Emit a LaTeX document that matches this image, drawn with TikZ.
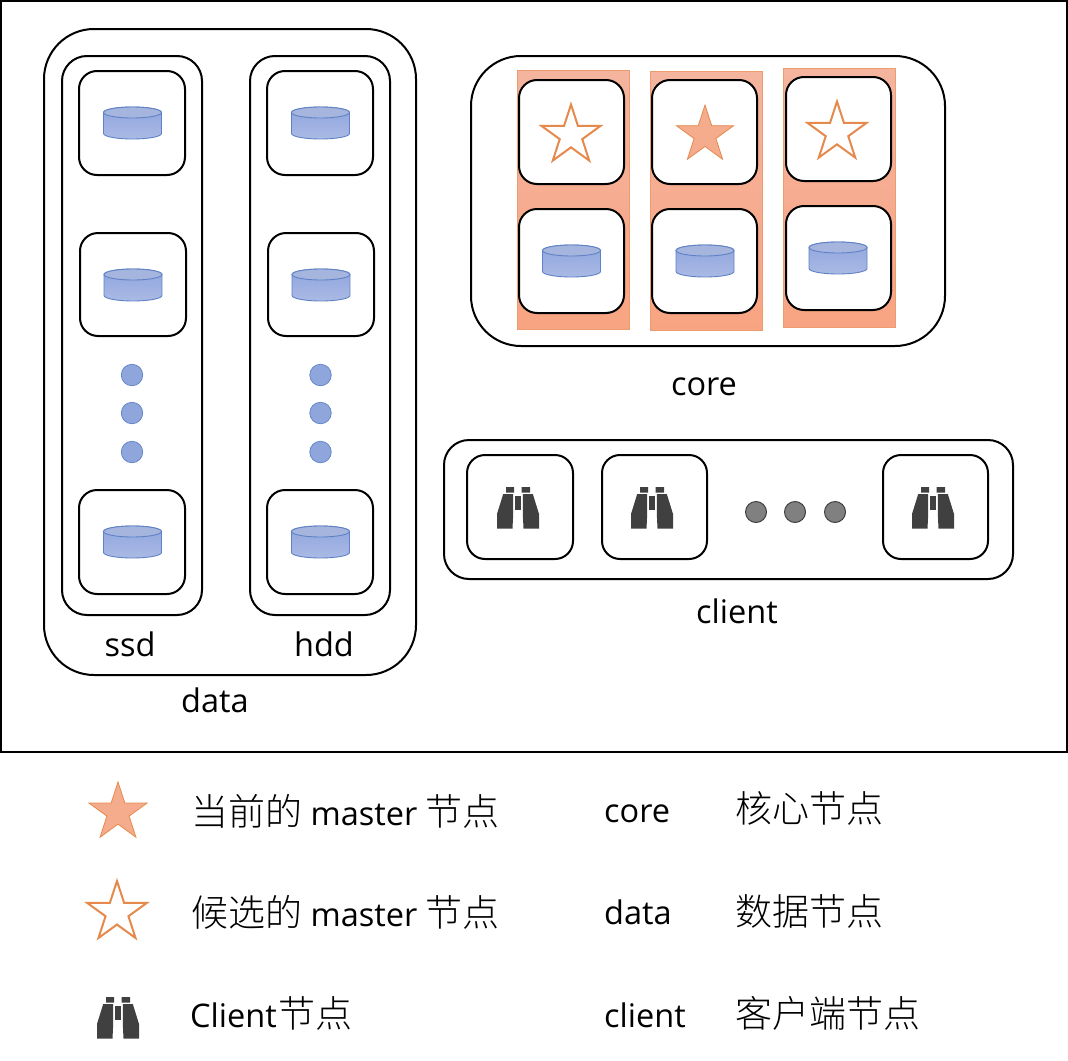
\documentclass[tikz,border=0pt]{standalone}
\usepackage{fontspec}
\setmainfont{Open Sans}
\newfontfamily\cjk{Noto Sans CJK SC Light}
\usetikzlibrary{shapes.geometric}
\definecolor{starline}{HTML}{E58A4C}
\definecolor{starfill}{HTML}{F5AC8D}
\definecolor{stripline}{HTML}{EC9C6E}
\definecolor{cylline}{HTML}{5F82C6}
\definecolor{binoc}{HTML}{404040}
\definecolor{striptop}{HTML}{F4B49E}
\definecolor{stripbot}{HTML}{F8A482}
\definecolor{cyltop}{HTML}{8FA5DE}
\definecolor{cylbot}{HTML}{ABBAE5}
\definecolor{cyllid}{HTML}{A6B5DE}
\definecolor{dotfill}{HTML}{8FA6DC}
\tikzset{
  x=1pt,y=-1pt,
  frame/.style={draw=black,line width=2pt,fill=white,rounded corners=#1},
  frame/.default=18pt,
  stripbox/.style={draw=stripline,line width=0.8pt,top color=striptop,bottom color=stripbot},
  starbase/.style={star,star points=5,star point ratio=2.618,inner sep=0pt,minimum size=#1},
  hollowstar/.style={starbase=#1,draw=starline,line width=2pt,fill=white},
  solidstar/.style={starbase=#1,draw=starline,line width=0.8pt,fill=starfill},
  vdot/.style={circle,draw=cylline,line width=0.7pt,fill=dotfill,minimum size=21.5pt,inner sep=0pt},
  gdot/.style={circle,draw=black!75,line width=1pt,fill=black!50,minimum size=21pt,inner sep=0pt},
  lab/.style={anchor=base,inner sep=0pt,font=\fontsize{32.5}{36}\selectfont},
  leg/.style={anchor=base west,inner sep=0pt,font=\fontsize{32.5}{36}\selectfont},
  cyl/.pic={
    \path[top color=cyltop,bottom color=cylbot,draw=cylline,line width=0.9pt]
      (-29,-10.5) -- (-29,10.5) arc[start angle=180,end angle=0,x radius=29,y radius=5.5]
      -- (29,-10.5) arc[start angle=0,end angle=-180,x radius=29,y radius=5.5] -- cycle;
    \path[fill=cyllid,draw=cylline,line width=0.9pt] (0,-10.5) ellipse[x radius=29,y radius=5.5];
  },
  binoculars/.pic={
    \fill[binoc] (-12,-20) rectangle (-4,-14.5) (3.5,-20) rectangle (12,-14.5);
    \fill[binoc] (-14.8,-13) -- (-4.8,-13) -- (-4.8,7) -- (-5.5,21.5) -- (-21,21.5) -- (-21,7) -- cycle;
    \fill[binoc] (14.8,-13) -- (4.8,-13) -- (4.8,7) -- (5.5,21.5) -- (21,21.5) -- (21,7) -- cycle;
    \fill[binoc] (-2.8,-11.3) rectangle (2.8,2.7);
  }
}
\newcommand{\bx}[5]{\path[frame] (#2,#3) rectangle (#4,#5) node[pos=.5,inner sep=0pt] (#1) {};}
\newcommand{\zh}[1]{{\cjk\fontsize{37}{40}\selectfont #1}}
\begin{document}
\begin{tikzpicture}
\useasboundingbox (0,0) rectangle (1068,1060);
\fill[white] (0,0) rectangle (1068,1060);
\path[draw=black,line width=2pt] (1,1) rectangle (1067,752) node[pos=.5,inner sep=0pt] (main) {};
% data group
\path[frame=50pt] (44,29) rectangle (416,675) node[pos=.5,inner sep=0pt] (datagroup) {};
\path[frame=25pt] (62,56) rectangle (202,615) node[pos=.5,inner sep=0pt] (ssdgroup) {};
\path[frame=25pt] (250,56) rectangle (390,615) node[pos=.5,inner sep=0pt] (hddgroup) {};
\bx{sa}{79}{71}{185}{175}
\bx{sb}{80}{233}{186}{336}
\bx{sc}{79}{490}{185}{594}
\bx{ha}{267}{71}{373}{175}
\bx{hb}{268}{233}{374}{336}
\bx{hc}{267}{490}{373}{594}
\path (132.5,123) pic {cyl} (133,285) pic {cyl} (132.5,542) pic {cyl}
      (320.5,123) pic {cyl} (321,285) pic {cyl} (320.5,542) pic {cyl};
\node[vdot] (sd1) at (132,375) {};
\node[vdot] (sd2) at (132,413) {};
\node[vdot] (sd3) at (132,452) {};
\node[vdot] (hd1) at (320.5,375) {};
\node[vdot] (hd2) at (320.5,413) {};
\node[vdot] (hd3) at (320.5,452) {};
\node[lab] (ssdlab) at (130,656) {ssd};
\node[lab] (hddlab) at (324,656) {hdd};
\node[lab] (datalab) at (215,712) {data};
% core group
\path[frame=50pt] (471,56) rectangle (945,346) node[pos=.5,inner sep=0pt] (coregroup) {};
\path[stripbox] (517,70) rectangle (629,329) node[pos=.5,inner sep=0pt] (strip1) {};
\path[stripbox] (650,71) rectangle (762,330) node[pos=.5,inner sep=0pt] (strip2) {};
\path[stripbox] (783,68) rectangle (895,327) node[pos=.5,inner sep=0pt] (strip3) {};
\bx{ca}{519}{80}{624}{184}
\bx{cb}{519}{209}{624}{313}
\bx{cc}{652}{80}{757}{184}
\bx{cd}{652}{209}{757}{313}
\bx{ce}{786}{77}{891}{181}
\bx{cf}{786}{206}{891}{310}
\node[hollowstar=62pt] (st1) at (571,135.5) {};
\node[solidstar=60pt] (st2) at (705,135) {};
\node[hollowstar=62pt] (st3) at (837,132.5) {};
\path (571.5,261) pic {cyl} (705,261) pic {cyl} (838,258) pic {cyl};
\node[lab] (corelab) at (704,395) {core};
% client group
\path[frame=25pt] (444,440) rectangle (1013,579) node[pos=.5,inner sep=0pt] (clientgroup) {};
\bx{ka}{467}{455}{573}{559}
\bx{kb}{602}{455}{707}{559}
\bx{kc}{883}{455}{988}{559}
\path (518,507) pic {binoculars} (652,507) pic {binoculars} (933,507) pic {binoculars};
\node[gdot] (g1) at (756,512) {};
\node[gdot] (g2) at (795,512) {};
\node[gdot] (g3) at (835,512) {};
\node[lab] (clientlab) at (737,623) {client};
% legend
\node[solidstar=61pt] (ls1) at (118,812.5) {};
\node[hollowstar=63pt] (ls2) at (117,912.5) {};
\path (118,1017) pic {binoculars};
\node[leg] (l1) at (191,825) {\zh{当前的} master \zh{节点}};
\node[leg] (l2) at (191,926) {\zh{候选的} master \zh{节点}};
\node[leg] (l3) at (190,1027) {Client\hspace{2pt}\zh{节点}};
\node[leg] (m1) at (604,822) {core};
\node[leg] (m2) at (604,924) {data};
\node[leg] (m3) at (604,1027) {client};
\node[leg] (r1) at (735,822) {\zh{核心节点}};
\node[leg] (r2) at (735,925) {\zh{数据节点}};
\node[leg] (r3) at (735,1027) {\zh{客户端节点}};
\end{tikzpicture}
\end{document}
